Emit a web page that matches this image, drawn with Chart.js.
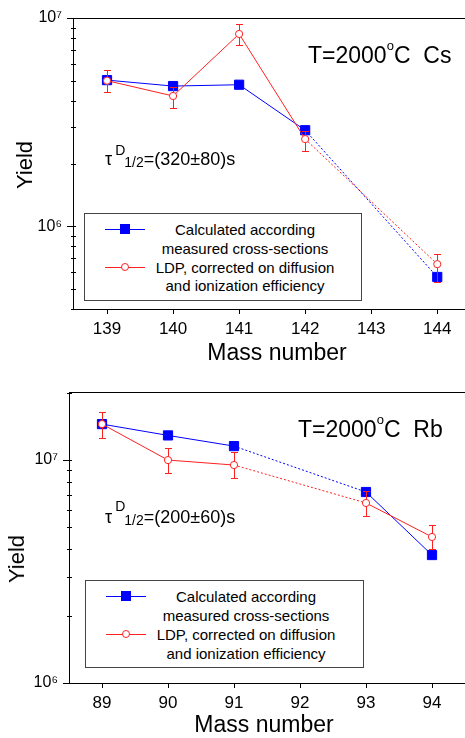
<!DOCTYPE html>
<html>
<head>
<meta charset="utf-8">
<script src="https://cdn.jsdelivr.net/npm/chart.js@4.4.1/dist/chart.umd.min.js"></script>
<style>
  body { margin: 0; background: #fff; overflow: hidden; font-family: "Liberation Sans", Arial, sans-serif; }
  #wrap { position: relative; width: 465px; height: 738px; }
  canvas { position: absolute; left: 0; }
  .txt { position: absolute; line-height: 1; white-space: nowrap; color: #000; }
  .ctr { position: absolute; line-height: 1; white-space: nowrap; color: #000; transform: translate(-50%, -50%); }
  .rot { transform: translate(-50%, -50%) rotate(-90deg); }
  .legend { position: absolute; border: 1px solid #444; box-sizing: border-box; background: #fff; }
  .lt { position: absolute; left: 160px; transform: translate(-50%, -50%); font-size: 15px; line-height: 1; white-space: nowrap; }
  .mk { position: absolute; left: 20px; width: 40px; height: 0; }
  .mk i { position: absolute; display: block; }
  .ln { left: 0; top: -0.5px; width: 40px; height: 1px; }
  .sq { left: 15px; top: -5px; width: 10px; height: 10px; background: #0000ff; }
  .ci { left: 16px; top: -4px; width: 6px; height: 6px; border: 1px solid #ff2020; border-radius: 50%; background: #fff; }
</style>
</head>
<body>
<div id="wrap">
  <canvas id="chartCs" width="465" height="370" style="top:0"></canvas>
  <canvas id="chartRb" width="465" height="368" style="top:370px"></canvas>

  <!-- top panel texts -->
  <div class="txt" style="left:308px;top:44px;font-size:23px">T=2000<span style="font-size:13px;position:relative;top:-13px">o</span>C&nbsp;&nbsp;Cs</div>
  <div class="txt" style="left:105px;top:150px;font-size:18px">τ<span style="font-size:14px;position:relative;top:-10px;margin-left:3px">D</span><span style="font-size:14px;position:relative;top:2px;margin-left:-1px">1/2</span>=(320±80)s</div>
  <div class="ctr rot" style="left:25px;top:165px;font-size:22px">Yield</div>
  <div class="ctr" style="left:277px;top:352px;font-size:23px">Mass number</div>
  <div class="legend" style="left:84px;top:213px;width:278px;height:88px">
    <div class="mk" style="top:15px"><i class="ln" style="background:#0000ff"></i><i class="sq"></i></div>
    <div class="lt" style="top:15px">Calculated according</div>
    <div class="lt" style="top:34px">measured cross-sections</div>
    <div class="mk" style="top:53px"><i class="ln" style="background:#ff2020"></i><i class="ci"></i></div>
    <div class="lt" style="top:53px">LDP, corrected on diffusion</div>
    <div class="lt" style="top:71px">and ionization efficiency</div>
  </div>

  <!-- bottom panel texts -->
  <div class="txt" style="left:298px;top:418px;font-size:23px">T=2000<span style="font-size:13px;position:relative;top:-13px">o</span>C&nbsp;&nbsp;Rb</div>
  <div class="txt" style="left:105px;top:508px;font-size:18px">τ<span style="font-size:14px;position:relative;top:-12px;margin-left:3px">D</span><span style="font-size:14px;position:relative;top:2px;margin-left:-1px">1/2</span>=(200±60)s</div>
  <div class="ctr rot" style="left:17px;top:559px;font-size:22px">Yield</div>
  <div class="ctr" style="left:264px;top:724px;font-size:23px">Mass number</div>
  <div class="legend" style="left:85px;top:580px;width:279px;height:88px">
    <div class="mk" style="top:15px"><i class="ln" style="background:#0000ff"></i><i class="sq"></i></div>
    <div class="lt" style="top:15px">Calculated according</div>
    <div class="lt" style="top:34px">measured cross-sections</div>
    <div class="mk" style="top:53px"><i class="ln" style="background:#ff2020"></i><i class="ci"></i></div>
    <div class="lt" style="top:53px">LDP, corrected on diffusion</div>
    <div class="lt" style="top:72px">and ionization efficiency</div>
  </div>
</div>

<script>
// Cs, T=2000 C
const massCs = [139, 140, 141, 142, 144];
const calcCs = [5.03e6, 4.71e6, 4.78e6, 2.89e6, 5.7e5];
const ldpCs = [5.0e6, 4.22e6, 8.38e6, 2.62e6, 6.57e5];
const ldpCsHi = [5.62e6, 4.66e6, 9.36e6, 2.85e6, 7.33e5];
const ldpCsLo = [4.41e6, 3.69e6, 7.41e6, 2.29e6, 5.38e5];
const dottedCs = [false, false, false, true];   // per segment
const xTicksCs = [139, 140, 141, 142, 143, 144];

// Rb, T=2000 C
const massRb = [89, 90, 91, 93, 94];
const calcRb = [1.45e7, 1.29e7, 1.155e7, 7.19e6, 3.75e6];
const ldpRb = [1.45e7, 1.0e7, 9.5e6, 6.42e6, 4.52e6];
const ldpRbHi = [1.64e7, 1.13e7, 1.086e7, 7.26e6, 5.12e6];
const ldpRbLo = [1.255e7, 8.74e6, 8.3e6, 5.61e6, 3.99e6];
const dottedRb = [false, false, true, false];
const xTicksRb = [89, 90, 91, 92, 93, 94];

// labelled decades on the log axis
const yMajorValues = [1e6, 1e7];
const yMajorLabels = ['10\u2076', '10\u2077'];

const BLUE = '#0000ff';
const RED = '#ff2020';
const FONT = '"Liberation Sans", Arial, sans-serif';

function isMajor(v) {
    const l = Math.log10(v);
    return Math.abs(l - Math.round(l)) < 1e-6;
}

// 1..9 x 10^n ticks inside [min, max]
function logTicks(min, max) {
    const out = [];
    for (let e = Math.floor(Math.log10(min)); e <= Math.ceil(Math.log10(max)); e++) {
        for (let m = 1; m <= 9; m++) {
            const v = m * Math.pow(10, e);
            if (v >= min * 0.999 && v <= max * 1.001) out.push(v);
        }
    }
    return out;
}

// error bars drawn just before the LDP dataset, so the open circles sit on top
const errorBars = {
    id: 'errorBars',
    beforeDatasetDraw(chart, args) {
        const ds = chart.data.datasets[args.index];
        if (!ds.errHi) return;
        const { ctx, scales: { x, y } } = chart;
        ctx.save();
        ctx.strokeStyle = ds.borderColor;
        ctx.lineWidth = 1;
        ds.data.forEach((p, i) => {
            const px = Math.round(x.getPixelForValue(p.x)) + 0.5;
            const top = Math.round(y.getPixelForValue(ds.errHi[i])) + 0.5;
            const bot = Math.round(y.getPixelForValue(ds.errLo[i])) + 0.5;
            ctx.beginPath();
            ctx.moveTo(px, top); ctx.lineTo(px, bot);
            ctx.moveTo(px - 3.5, top); ctx.lineTo(px + 3.5, top);
            ctx.moveTo(px - 3.5, bot); ctx.lineTo(px + 3.5, bot);
            ctx.stroke();
        });
        ctx.restore();
    }
};

// top frame line and major/minor ticks of the log axis
const frame = {
    id: 'frame',
    afterDraw(chart) {
        const { ctx, chartArea: a, scales: { y } } = chart;
        ctx.save();
        ctx.strokeStyle = '#000';
        ctx.lineWidth = 1;
        ctx.beginPath();
        ctx.moveTo(a.left, a.top + 0.5);
        ctx.lineTo(a.right, a.top + 0.5);
        y.ticks.forEach(t => {
            const py = Math.round(y.getPixelForValue(t.value)) + 0.5;
            const major = isMajor(t.value);
            ctx.moveTo(a.left - (major ? 6 : 2), py);
            ctx.lineTo(a.left + 3, py);
        });
        ctx.stroke();
        ctx.restore();
    }
};

function pts(xs, ys) {
    return xs.map((x, i) => ({ x: x, y: ys[i] }));
}

function plotYield(canvasId, o) {
    const ctx = document.getElementById(canvasId).getContext('2d');
    return new Chart(ctx, {
        type: 'line',
        data: {
            datasets: [{
                label: 'LDP, corrected on diffusion and ionization efficiency',
                data: pts(o.mass, o.ldp),
                errHi: o.hi,
                errLo: o.lo,
                borderColor: RED,
                borderWidth: 1,
                pointStyle: 'circle',
                pointRadius: 3.6,
                pointBorderWidth: 1,
                pointBackgroundColor: '#fff',
                pointBorderColor: RED,
                fill: false,
                order: 0,
                segment: { borderDash: c => o.dotted[c.p0DataIndex] ? [2, 2] : undefined }
            }, {
                label: 'Calculated according measured cross-sections',
                data: pts(o.mass, o.calc),
                borderColor: BLUE,
                borderWidth: 1,
                pointStyle: 'rect',
                pointRadius: 6.5,
                pointBorderWidth: 1,
                pointBackgroundColor: BLUE,
                pointBorderColor: BLUE,
                fill: false,
                order: 1,
                segment: { borderDash: c => o.dotted[c.p0DataIndex] ? [2, 2] : undefined }
            }]
        },
        options: {
            responsive: false,
            animation: false,
            layout: { autoPadding: false, padding: { top: o.padTop, left: 0, right: 0, bottom: 0 } },
            plugins: { legend: { display: false }, tooltip: { enabled: false } },
            scales: {
                x: {
                    type: 'linear',
                    min: o.xMin,
                    max: o.xMax,
                    afterBuildTicks: s => { s.ticks = o.xTicks.map(v => ({ value: v })); },
                    afterFit: s => { s.height = o.xHeight; s.paddingLeft = 0; s.paddingRight = 0; },
                    grid: { drawOnChartArea: false, drawTicks: true, tickLength: 5, color: '#000' },
                    border: { color: '#000', width: 1 },
                    ticks: {
                        color: '#000', font: { family: FONT, size: 17 }, padding: 5,
                        autoSkip: false, maxRotation: 0, callback: v => String(v)
                    }
                },
                y: {
                    type: 'logarithmic',
                    min: o.yMin,
                    max: o.yMax,
                    afterBuildTicks: s => { s.ticks = logTicks(o.yMin, o.yMax).map(v => ({ value: v })); },
                    afterFit: s => { s.width = o.yWidth; s.paddingTop = 0; s.paddingBottom = 0; },
                    grid: { drawOnChartArea: false, drawTicks: false, color: '#000' },
                    border: { color: '#000', width: 1 },
                    ticks: {
                        color: '#000', font: { family: FONT, size: 16 }, padding: 11, autoSkip: false,
                        callback: v => {
                            const i = yMajorValues.findIndex(m => Math.abs(m - v) / m < 1e-6);
                            return i >= 0 ? yMajorLabels[i] : '';
                        }
                    }
                }
            }
        },
        plugins: [errorBars, frame]
    });
}

plotYield('chartCs', {
    mass: massCs, calc: calcCs, ldp: ldpCs, hi: ldpCsHi, lo: ldpCsLo, dotted: dottedCs,
    xTicks: xTicksCs, xMin: 138.485, xMax: 144.42, yMin: 4e5, yMax: 1e7,
    padTop: 18, xHeight: 61, yWidth: 73
});

plotYield('chartRb', {
    mass: massRb, calc: calcRb, ldp: ldpRb, hi: ldpRbHi, lo: ldpRbLo, dotted: dottedRb,
    xTicks: xTicksRb, xMin: 88.5, xMax: 94.5, yMin: 1e6, yMax: 2.02e7,
    padTop: 22, xHeight: 55, yWidth: 69
});
</script>
</body>
</html>
